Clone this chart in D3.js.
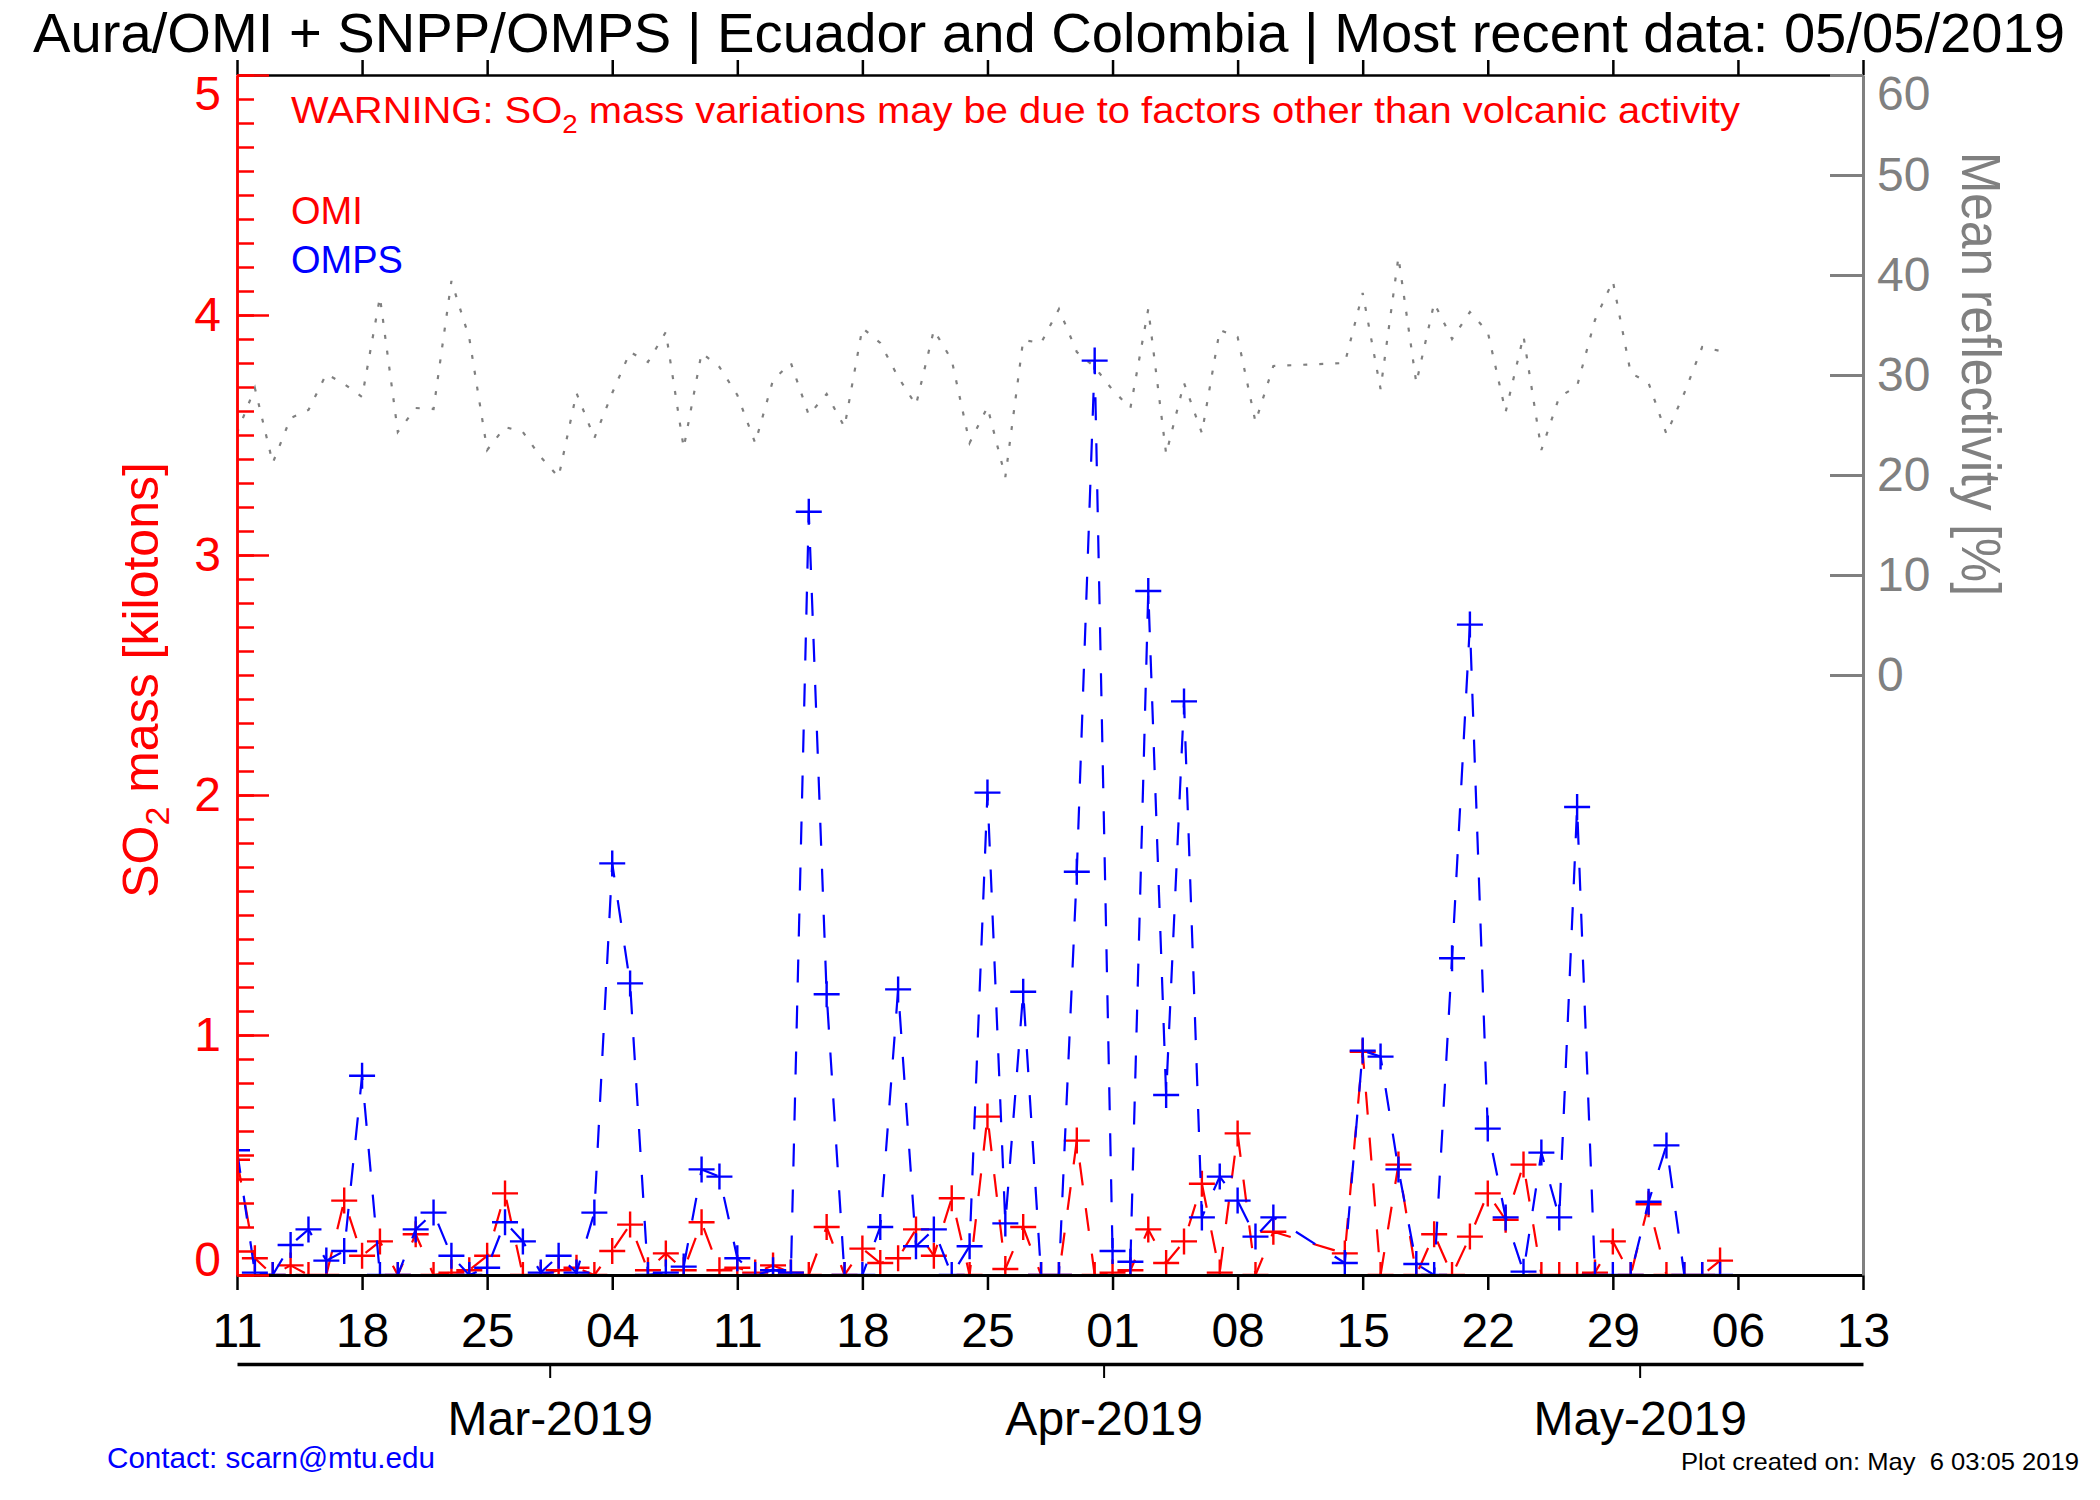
<!DOCTYPE html>
<html>
<head>
<meta charset="utf-8">
<script src="https://cdn.jsdelivr.net/npm/d3@7"></script>
<style>
body { margin: 0; background: #fff; }
svg { font-family: "Liberation Sans", Arial, Helvetica, sans-serif; }
</style>
</head>
<body>
<svg id="chart"></svg>
<script>
const width = 2100;
const height = 1500;

// observation days (Apr 11-13 missing)
const dates = [
    '02-11', '02-12', '02-13', '02-14', '02-15', '02-16', '02-17', '02-18', '02-19', '02-20',
    '02-21', '02-22', '02-23', '02-24', '02-25', '02-26', '02-27', '02-28',
    '03-01', '03-02', '03-03', '03-04', '03-05', '03-06', '03-07', '03-08', '03-09', '03-10',
    '03-11', '03-12', '03-13', '03-14', '03-15', '03-16', '03-17', '03-18', '03-19', '03-20',
    '03-21', '03-22', '03-23', '03-24', '03-25', '03-26', '03-27', '03-28', '03-29', '03-30', '03-31',
    '04-01', '04-02', '04-03', '04-04', '04-05', '04-06', '04-07', '04-08', '04-09', '04-10',
    '04-14', '04-15', '04-16', '04-17', '04-18', '04-19', '04-20', '04-21', '04-22', '04-23',
    '04-24', '04-25', '04-26', '04-27', '04-28', '04-29', '04-30',
    '05-01', '05-02', '05-03', '05-04', '05-05'
];

// SO2 mass [kt]
const omi = [
    0.48, 0.07, 0, 0.04, 0, 0, 0.31, 0.08, 0.14, 0,
    0.17, 0, 0.01, 0.02, 0.08, 0.34, 0, 0, 0.02, 0.03,
    0, 0.1, 0.21, 0.02, 0.09, 0.02, 0.22, 0.02, 0.03, 0.01,
    0.04, 0.01, 0, 0.2, 0, 0.11, 0.05, 0.07, 0.19, 0.08,
    0.32, 0, 0.66, 0.025, 0.2, 0, 0, 0.56, 0, 0.01,
    0.02, 0.19, 0.05, 0.14, 0.38, 0.01, 0.59, 0, 0.18,
    0.09, 0.93, 0, 0.46, 0, 0.17, 0, 0.16, 0.34, 0.23,
    0.46, 0, 0, 0, 0.01, 0.14, 0, 0.295, 0, 0, 0, 0.06
];

const omps = [
    0.52, 0.01, 0, 0.125, 0.19, 0.06, 0.1, 0.83, 0, 0,
    0.19, 0.26, 0.08, 0, 0.03, 0.22, 0.14, 0.01, 0.08, 0.01,
    0.26, 1.715, 1.215, 0, 0.01, 0.035, 0.44, 0.41, 0.07, 0,
    0.02, 0.01, 3.18, 1.17, 0, 0, 0.2, 1.19, 0.12, 0.19,
    0, 0.12, 2.01, 0.215, 1.18, 0, 0, 1.68, 3.81, 0.1,
    0.055, 2.85, 0.75, 2.39, 0.24, 0.41, 0.31, 0.16, 0.24,
    0.05, 0.935, 0.91, 0.44, 0.046, 0, 1.32, 2.71, 0.61, 0.24,
    0.014, 0.51, 0.24, 1.95, 0, 0, 0, 0.305, 0.54, 0, 0, 0
];

// mean reflectivity [%]
const reflectivity = [
    24.2, 28.7, 21.2, 25.7, 26.5, 30.1, 29.1, 27.8, 37.8, 24.3,
    26.7, 26.6, 39.4, 33.7, 22.5, 24.8, 24.3, 21.8, 19.8, 28.2,
    23.7, 28.2, 32.3, 31.3, 34.3, 22.7, 32.2, 30.8, 28.0, 23.2,
    29.5, 31.2, 26.0, 28.1, 24.8, 34.7, 33.2, 29.8, 27.0, 34.5,
    31.5, 23.2, 26.8, 19.8, 33.5, 33.2, 36.6, 32.3, 30.8, 28.5,
    26.7, 36.6, 22.1, 29.2, 24.2, 34.5, 33.8, 25.3, 30.9,
    31.2, 38.2, 28.6, 41.8, 29.2, 37.2, 33.6, 36.3, 34.3, 26.3,
    33.9, 22.5, 27.8, 28.9, 35.5, 39.4, 30.2, 29.2, 24.1, 28.2, 32.8, 32.4
];

const weekTicks = ['2019-02-11', '2019-02-18', '2019-02-25', '2019-03-04', '2019-03-11', '2019-03-18', '2019-03-25',
    '2019-04-01', '2019-04-08', '2019-04-15', '2019-04-22', '2019-04-29', '2019-05-06', '2019-05-13'];
const monthTicks = ['2019-02-28T12:00', '2019-03-31T12:00', '2019-04-30T12:00'];
const monthLabels = ['Mar-2019', 'Apr-2019', 'May-2019'];
const massTicks = [0, 1, 2, 3, 4, 5];
const reflTicks = [0, 10, 20, 30, 40, 50, 60];

const parse = s => new Date(s.length > 10 ? s + ':00Z' : s + 'T00:00:00Z');

const x = d3.scaleUtc()
    .domain([parse('2019-02-11'), parse('2019-05-13')])
    .range([237, 1863]);
const y = d3.scaleLinear().domain([0, 5]).range([1275, 75]);
const yRefl = d3.scaleLinear().domain([-60, 60]).range([1275, 75]);

const rows = dates.map((d, i) => ({
    date: parse('2019-' + d),
    omi: omi[i],
    omps: omps[i],
    refl: reflectivity[i]
}));

const svg = d3.select('#chart')
    .attr('width', width)
    .attr('height', height);

svg.append('rect').attr('width', width).attr('height', height).attr('fill', '#fff');

svg.append('clipPath').attr('id', 'plot-clip')
    .append('rect')
    .attr('x', 237).attr('y', 75)
    .attr('width', 1863 - 237).attr('height', 1275 - 75);

const styleAxis = (g, color, sw) => {
    g.attr('color', color).attr('font-family', null).attr('font-size', 48);
    g.selectAll('line, path').attr('stroke-width', sw);
};

// data
const plot = svg.append('g').attr('clip-path', 'url(#plot-clip)');

plot.append('path')
    .datum(rows)
    .attr('d', d3.line().x(d => x(d.date)).y(d => yRefl(d.refl)))
    .attr('fill', 'none')
    .attr('stroke', '#808080')
    .attr('stroke-width', 2.2)
    .attr('stroke-dasharray', '4,12');

const cross = (cx, cy) => `M${cx - 13},${cy}h26M${cx},${cy - 13}v26`;

[['omi', '#ff0000'], ['omps', '#0000ff']].forEach(([key, color]) => {
    plot.append('path')
        .datum(rows)
        .attr('d', d3.line().x(d => x(d.date)).y(d => y(d[key])))
        .attr('fill', 'none')
        .attr('stroke', color)
        .attr('stroke-width', 2.2)
        .attr('stroke-dasharray', '23,23');

    plot.append('path')
        .attr('d', rows.map(d => cross(x(d.date), y(d[key]))).join(''))
        .attr('fill', 'none')
        .attr('stroke', color)
        .attr('stroke-width', 2.4);
});

// top axis
svg.append('g')
    .attr('transform', 'translate(0,75)')
    .call(d3.axisTop(x).tickValues(weekTicks.map(parse)).tickSize(15).tickSizeOuter(0).tickFormat(''))
    .call(g => styleAxis(g, '#000', 2.5));

// bottom axis with day labels
svg.append('g')
    .attr('transform', 'translate(0,1275)')
    .call(d3.axisBottom(x).tickValues(weekTicks.map(parse)).tickFormat(d3.utcFormat('%d'))
        .tickSize(15).tickPadding(23).tickSizeOuter(0))
    .call(g => styleAxis(g, '#000', 2.5))
    .call(g => g.select('.domain').attr('stroke-width', 3));

// month axis
svg.append('g')
    .attr('transform', 'translate(0,1364)')
    .call(d3.axisBottom(x).tickValues(monthTicks.map(parse)).tickFormat((d, i) => monthLabels[i])
        .tickSize(14).tickPadding(23).tickSizeOuter(0))
    .call(g => styleAxis(g, '#000', 2))
    .call(g => g.select('.domain').attr('stroke-width', 3.5));

// left SO2 axis
svg.append('g')
    .attr('transform', 'translate(237,0)')
    .call(d3.axisLeft(y).tickValues(d3.range(0, 51).map(i => i / 10)).tickSize(-17).tickSizeOuter(0).tickFormat(''))
    .call(g => styleAxis(g, '#ff0000', 2.5));

svg.append('g')
    .attr('transform', 'translate(237,0)')
    .call(d3.axisLeft(y).tickValues(massTicks).tickFormat(d3.format('d'))
        .tickSize(-32).tickPadding(16).tickSizeOuter(0))
    .call(g => styleAxis(g, '#ff0000', 2.5))
    .call(g => g.selectAll('text').attr('dy', d => d === 5 ? '0.71em' : d === 0 ? '0' : '0.32em'));

// right reflectivity axis
svg.append('g')
    .attr('transform', 'translate(1863,0)')
    .call(d3.axisRight(yRefl).tickValues(reflTicks).tickSize(-33).tickPadding(14).tickSizeOuter(0))
    .call(g => styleAxis(g, '#808080', 3))
    .call(g => g.selectAll('text').attr('dy', d => d === 60 ? '0.71em' : '0.32em'));

// texts
svg.append('text')
    .attr('x', 1049).attr('y', 52)
    .attr('text-anchor', 'middle')
    .attr('font-size', 56)
    .attr('textLength', 2032)
    .attr('lengthAdjust', 'spacingAndGlyphs')
    .text('Aura/OMI + SNPP/OMPS | Ecuador and Colombia | Most recent data: 05/05/2019');

const warn = svg.append('text')
    .attr('x', 291).attr('y', 123)
    .attr('font-size', 36)
    .attr('fill', '#ff0000')
    .attr('textLength', 1449)
    .attr('lengthAdjust', 'spacingAndGlyphs');
warn.append('tspan').text('WARNING: SO');
warn.append('tspan').attr('font-size', 25).attr('dy', 10).text('2');
warn.append('tspan').attr('dy', -10).text(' mass variations may be due to factors other than volcanic activity');

svg.append('text').attr('x', 291).attr('y', 224).attr('font-size', 38).attr('fill', '#ff0000').text('OMI');
svg.append('text').attr('x', 291).attr('y', 273).attr('font-size', 38).attr('fill', '#0000ff').text('OMPS');

const yTitle = svg.append('text')
    .attr('transform', 'translate(158,680) rotate(-90)')
    .attr('text-anchor', 'middle')
    .attr('font-size', 50)
    .attr('fill', '#ff0000');
yTitle.append('tspan').text('SO');
yTitle.append('tspan').attr('font-size', 34).attr('dy', 11).text('2');
yTitle.append('tspan').attr('dy', -11).text(' mass [kilotons]');

svg.append('text')
    .attr('transform', 'translate(1962,374) rotate(90)')
    .attr('text-anchor', 'middle')
    .attr('font-size', 56)
    .attr('fill', '#808080')
    .attr('textLength', 444)
    .attr('lengthAdjust', 'spacingAndGlyphs')
    .text('Mean reflectivity [%]');

svg.append('text')
    .attr('x', 107).attr('y', 1468)
    .attr('font-size', 29)
    .attr('fill', '#0000ff')
    .attr('textLength', 328)
    .attr('lengthAdjust', 'spacingAndGlyphs')
    .text('Contact: scarn@mtu.edu');

svg.append('text')
    .attr('x', 2079).attr('y', 1470)
    .attr('text-anchor', 'end')
    .attr('font-size', 24)
    .attr('textLength', 398)
    .attr('lengthAdjust', 'spacingAndGlyphs')
    .style('white-space', 'pre')
    .text('Plot created on: May  6 03:05 2019');
</script>
</body>
</html>
